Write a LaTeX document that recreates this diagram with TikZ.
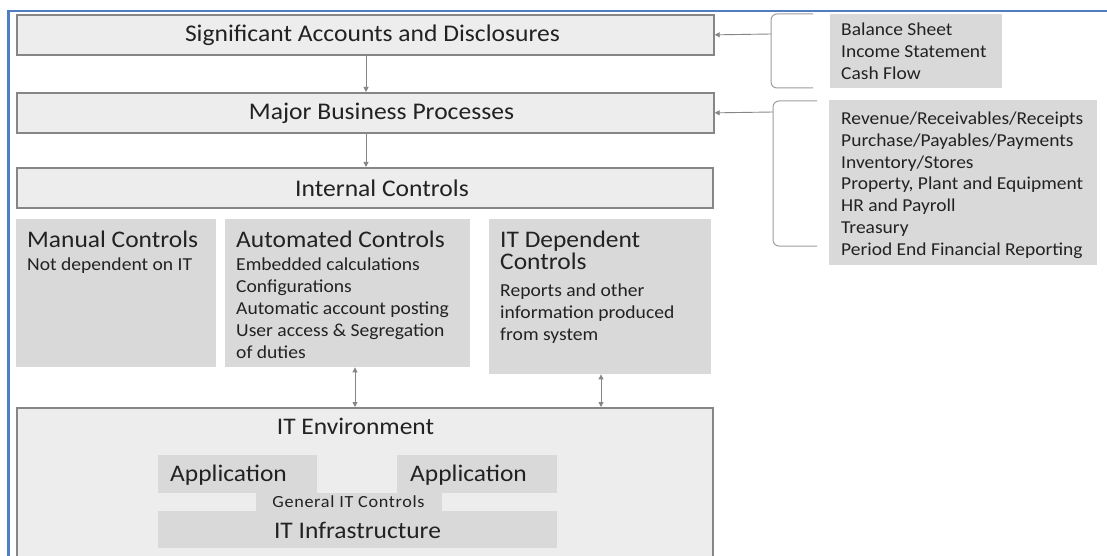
\documentclass[tikz,border=0pt]{standalone}
\usepackage{fontspec}
\setmainfont{Carlito}[FakeStretch=1.07]
\usetikzlibrary{arrows.meta}
\definecolor{frameblue}{HTML}{4F7FC0}
\definecolor{edgegray}{HTML}{868686}
\definecolor{lightfill}{HTML}{EDEDED}
\definecolor{midfill}{HTML}{D9D9D9}
\definecolor{ink}{HTML}{222222}
\newcommand{\bigfont}{\fontsize{23.8}{23}\selectfont}
\newcommand{\headfont}{\fontsize{23.9}{24}\selectfont}
\newcommand{\bodyfont}{\fontsize{18.3}{22}\selectfont}
\newcommand{\listfont}{\fontsize{18.2}{21.7}\selectfont}
\newcommand{\gitcfont}{\fontsize{17}{19}\selectfont\addfontfeature{LetterSpace=4}}
\tikzset{
  hbox/.style={draw=edgegray, line width=1.7pt, fill=lightfill, anchor=north west, inner sep=0pt},
  gbox/.style={fill=midfill, anchor=north west, inner sep=0pt},
  title/.style={anchor=center, inner sep=0pt, text=ink, font=\headfont},
  label/.style={anchor=north west, inner sep=0pt, align=left, text=ink},
  arr/.style={draw=edgegray, line width=0.9pt, -{Triangle[width=5pt,length=5pt]}},
  dbl/.style={draw=edgegray, line width=0.9pt, {Triangle[width=5pt,length=5pt]}-{Triangle[width=5pt,length=5pt]}},
  brace/.style={draw=edgegray!80, line width=1pt, rounded corners=6pt},
}
\begin{document}
\begin{tikzpicture}[x=1pt, y=-1pt]
\useasboundingbox (0,0) rectangle (1107,556);
\clip (0,0) rectangle (1107,556);
\fill[white] (0,0) rectangle (1107,556);

% page frame
\draw[frameblue, line width=2.2pt] (8.5,556) -- (8.5,11) -- (1107,11);

% main chain
\node[hbox, minimum width=697pt, minimum height=40pt] (sig) at (16,14) {};
\node[hbox, minimum width=697pt, minimum height=40pt] (major) at (16,92) {};
\node[hbox, minimum width=696pt, minimum height=40pt] (ic) at (16,167) {};
\node[title] (sigtxt) at (372.5,35) {Significant Accounts and Disclosures};
\node[title] (majortxt) at (381.5,113) {Major Business Processes};
\node[title] (ictxt) at (382,188) {Internal Controls};
\draw[arr] (sig.south -| 366,0) -- (major.north -| 366,0);
\draw[arr] (major.south -| 366,0) -- (ic.north -| 366,0);

% control categories
\node[gbox, minimum width=200pt, minimum height=148pt] (manual) at (16,219) {};
\node[gbox, minimum width=245pt, minimum height=148pt] (auto) at (225,219) {};
\node[gbox, minimum width=222pt, minimum height=155pt] (itdep) at (489,219) {};
\node[label, font=\bodyfont] (manualtxt) at (27,231) {{\bigfont Manual Controls}\\[1pt]Not dependent on IT};
\node[label, font=\bodyfont] (autotxt) at (236,231) {{\bigfont Automated Controls}\\[1pt]Embedded calculations\\Configurations\\Automatic account posting\\User access \& Segregation\\of duties};
\node[label, font=\bodyfont] (itdeptxt) at (500,231) {{\bigfont IT Dependent}\\{\bigfont Controls}\\[5pt]Reports and other\\information produced\\from system};

% IT environment
\node[hbox, minimum width=696pt, minimum height=160pt] (env) at (16,407) {};
\node[title, font=\bigfont] (envtxt) at (355.5,426) {IT Environment};
\node[gbox, minimum width=159pt, minimum height=38pt] (app1) at (158,455) {};
\node[gbox, minimum width=160pt, minimum height=38pt] (app2) at (397,455) {};
\node[gbox, minimum width=186pt, minimum height=19pt] (gitcbox) at (256,492.5) {};
\node[gbox, minimum width=399pt, minimum height=37pt] (infra) at (158,511) {};
\node[anchor=west, inner sep=0pt, text=ink, font=\bigfont] (app1txt) at (170,475) {Application};
\node[anchor=west, inner sep=0pt, text=ink, font=\bigfont] (app2txt) at (410,475) {Application};
\node[title, font=\gitcfont] (gitc) at (348.5,502) {General IT Controls};
\node[title, font=\bigfont] (infratxt) at (357.5,530) {IT Infrastructure};

\draw[dbl] (auto.south -| 355,0) -- (env.north -| 355,0);
\draw[dbl] (itdep.south -| 601,0) -- (env.north -| 601,0);

% statement and process lists
\node[gbox, minimum width=172pt, minimum height=74pt] (stmts) at (830,14) {};
\node[gbox, minimum width=268pt, minimum height=165pt] (procs) at (829,100) {};
\node[label, font=\listfont] (stmtstxt) at (841,23) {Balance Sheet\\Income Statement\\Cash Flow};
\node[label, font=\listfont] (procstxt) at (841,112) {Revenue/Receivables/Receipts\\Purchase/Payables/Payments\\Inventory/Stores\\Property, Plant and Equipment\\HR and Payroll\\Treasury\\Period End Financial Reporting};

% brackets feeding the chain
\draw[brace] (813,14) -- (771,14) -- (771,88) -- (813,88);
\coordinate (b1) at (771,34);
\draw[arr] (b1) -- (sig.east);
\draw[brace] (817,101) -- (773,101) -- (773,246) -- (817,246);
\coordinate (b2) at (773,112);
\draw[arr] (b2) -- (major.east);
\end{tikzpicture}
\end{document}
